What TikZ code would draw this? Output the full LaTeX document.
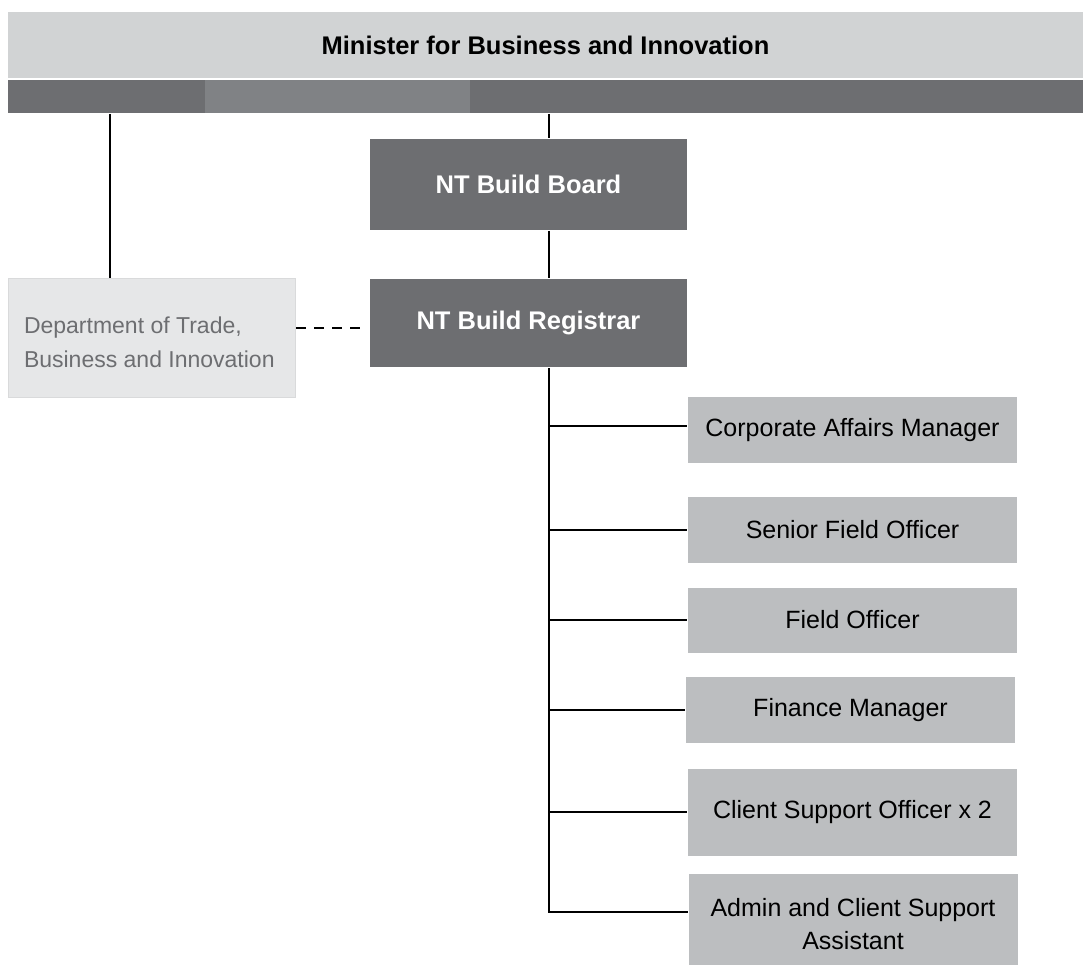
\documentclass[tikz,border=0pt]{standalone}
\usepackage{fontspec}
\setmainfont{Liberation Sans}
\usetikzlibrary{shapes}

\definecolor{barlight}{HTML}{D1D3D4}
\definecolor{bardark}{HTML}{6D6E71}
\definecolor{barmid}{HTML}{808285}
\definecolor{deptfill}{HTML}{E6E7E8}
\definecolor{deptline}{HTML}{D9DADB}
\definecolor{rolefill}{HTML}{BCBEC0}

\begin{document}
\begin{tikzpicture}[x=1pt,y=-1pt,line width=2pt,
                bar/.style={fill=#1,minimum height=33pt,inner sep=0pt},
                head/.style={fill=bardark,text=white,minimum width=317pt,inner sep=0pt,font=\fontsize{25.5}{30}\selectfont\bfseries},
                role/.style={fill=rolefill,minimum width=329pt,minimum height=66pt,inner sep=0pt,align=center,font=\fontsize{25}{33}\selectfont},
                link/.style={draw=black}]
                \useasboundingbox (0, 0) rectangle (1083, 965);
                \node[fill=barlight,minimum width=1075pt,minimum height=66pt,inner sep=0pt,font=\fontsize{25.5}{30}\selectfont\bfseries](minister)at(545.5, 45){Minister for Business and Innovation};
                \node[bar=bardark,minimum width=197pt](barleft)at(106.5, 96.5){};
                \node[bar=barmid,minimum width=265pt](barmid)at(337.5, 96.5){};
                \node[bar=bardark,minimum width=613pt](barright)at(776.5, 96.5){};
                \node[head,minimum height=91pt](board)at(528.5, 184.5){NT Build Board};
                \node[head,minimum height=88pt](registrar)at(528.5, 323){NT Build Registrar};
                \node[fill=deptfill,draw=deptline,line width=1pt,minimum width=287pt,minimum height=119pt,inner sep=0pt,text width=256pt,align=flush left,text=bardark,font=\fontsize{23}{34}\selectfont](dept)at(152, 338){\rule{0pt}{25pt}Department of Trade,\\Business and Innovation};
                \node[role](corporate)at(852.5, 430){Corporate Affairs Manager};
                \node[role](senior)at(852.5, 530){Senior Field Officer};
                \node[role,minimum height=65pt](field)at(852.5, 620){Field Officer};
                \node[role](finance)at(850.5, 710){Finance Manager};
                \node[role,minimum height=87pt](client)at(852.5, 812){Client Support Officer x 2};
                \node[role,minimum height=100pt](admin)at(853, 924){Admin and Client Support\\Assistant};
                \coordinate(trunk)at(549, 0);
                \coordinate(deptdrop)at(110, 0);
                \path[link](barright.south -| trunk) edge (board.north -| trunk)
                (board.south -| trunk) edge (registrar.north -| trunk)
                (barleft.south -| deptdrop) edge (dept.north -| deptdrop)
                ([yshift=4pt]corporate.west -| trunk) edge ([yshift=4pt]corporate.west)
                (senior.west -| trunk) edge (senior.west)
                (field.west -| trunk) edge (field.west)
                (finance.west -| trunk) edge (finance.west)
                (client.west -| trunk) edge (client.west);
                \draw[link](registrar.south -| trunk) |- ([yshift=12pt]admin.west);
                \draw[link,dash pattern=on 10pt off 8pt,shorten >=8pt]([yshift=-5pt]registrar.west -| dept.east) -- ([yshift=-5pt]registrar.west);
            \end{tikzpicture}
\end{document}
